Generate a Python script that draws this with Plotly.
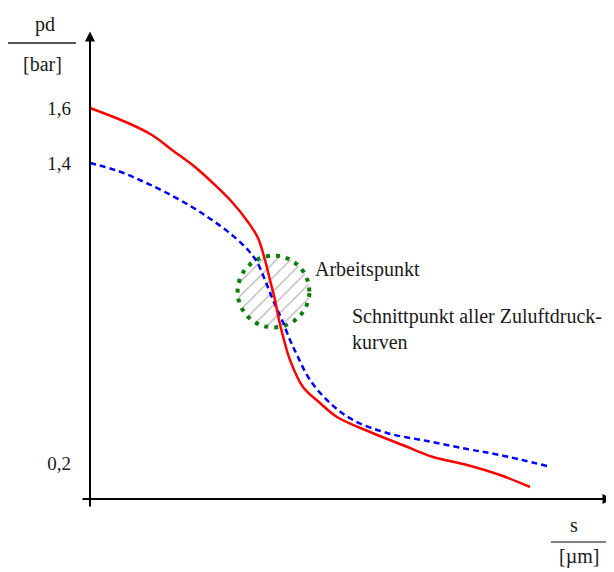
"""Schematic: supply pressure pd over travel s, with the common operating point."""

import numpy as np
import plotly.graph_objects as go

# curves in schematic units (s right, pd up), origin at the axis crossing
red_s = [0, 7.6, 12.4, 16.4, 21, 25, 28.4, 31.6, 33.6, 35, 36, 37, 37.8, 38.8,
         40, 42.6, 46, 49.4, 56, 63, 68.6, 75.4, 82, 88]
red_pd = [78.2, 75.2, 72.8, 69.8, 66.4, 62.8, 59.4, 55.4, 52.2, 47.8, 43.8, 39.8,
          35.8, 31.8, 27.8, 22.4, 19.2, 16.4, 13.4, 10.6, 8.4, 6.8, 4.8, 2.4]

blue_s = [0, 5.6, 10.4, 15, 20.4, 24.4, 28.4, 31.6, 33.4, 35, 36.6, 38.4, 40,
          41.4, 44, 48, 52.6, 59.4, 67.4, 75.4, 82, 91.4]
blue_pd = [67.2, 65.6, 63.6, 61.4, 58.4, 55.8, 52.8, 49.8, 47.4, 43.8, 39.8, 35.8,
           31.8, 28.8, 23.8, 19.2, 15.8, 13.2, 11.6, 10.0, 8.8, 6.6]

tick_pos = [78.2, 67.2, 7.2]
tick_text = ["1,6", "1,4", "0,2"]

# operating point (circle centre / radius)
op_s, op_pd, op_r = 36.7, 41.5, 7.2

FONT = "Liberation Serif"
OFF = 8  # default body margin of the html page
W, H = 614 - OFF, 572 - OFF
X0, X1 = -1.8, 104.6
Y0, Y1 = -1.8, 93.6
M_L, M_T = 81 - OFF, 31 - OFF
PX = 5.0  # pixels per unit on both axes
M_R = W - M_L - (X1 - X0) * PX
M_B = H - M_T - (Y1 - Y0) * PX


def paper(px, py):
    # page pixel position -> paper coordinates
    pw = (X1 - X0) * PX
    ph = (Y1 - Y0) * PX
    return (px - OFF - M_L) / pw, (M_T + ph - (py - OFF)) / ph


th = np.linspace(0, 2 * np.pi, 181)
circ_x = op_s + op_r * np.cos(th)
circ_y = op_pd + op_r * np.sin(th)

fig = go.Figure()
fig.add_trace(go.Scatter(
    x=circ_x, y=circ_y, mode="lines", fill="toself",
    fillcolor="rgba(0,0,0,0)",
    fillpattern=dict(shape="/", size=10, solidity=0.12, fgcolor="#b4b4b4",
                     bgcolor="rgba(0,0,0,0)", fillmode="replace"),
    line=dict(color="#0b7d0b", width=4, dash="4px,6px"),
    hoverinfo="skip",
))
fig.add_trace(go.Scatter(
    x=blue_s, y=blue_pd, mode="lines",
    line=dict(color="#0000ff", width=2.5, dash="6px,4px", shape="spline", smoothing=1.0),
))
fig.add_trace(go.Scatter(
    x=red_s, y=red_pd, mode="lines",
    line=dict(color="#ff0000", width=2.5, shape="spline", smoothing=1.0),
))

ann = [
    # axes with arrow heads
    dict(x=X1 - 0.1, y=0, ax=X0, ay=0, xref="x", yref="y", axref="x", ayref="y",
         showarrow=True, arrowhead=2, arrowsize=1, arrowwidth=2, arrowcolor="black", text=""),
    dict(x=0, y=Y1 - 0.1, ax=0, ay=Y0, xref="x", yref="y", axref="x", ayref="y",
         showarrow=True, arrowhead=2, arrowsize=1, arrowwidth=2, arrowcolor="black", text=""),
    dict(x=44.6, y=46, xref="x", yref="y", text="Arbeitspunkt", showarrow=False,
         xanchor="left", yanchor="middle"),
    dict(x=52, y=34.1, xref="x", yref="y", text="Schnittpunkt aller Zuluftdruck-<br>kurven",
         showarrow=False, xanchor="left", yanchor="middle", align="left"),
]
for txt, (px, py) in [("pd", (45, 24)), ("[bar]", (42, 64)),
                      ("s", (574, 525)), ("[µm]", (579, 556))]:
    fx, fy = paper(px, py)
    ann.append(dict(x=fx, y=fy, xref="paper", yref="paper", text=txt, showarrow=False,
                    xanchor="center", yanchor="middle"))

shapes = []
for (xa, xb, yy, col) in [(8, 76, 43, "#555555"), (551, 607, 542, "#808080")]:
    fa, fy = paper(xa, yy)
    fb, _ = paper(xb, yy)
    shapes.append(dict(type="line", xref="paper", yref="paper", x0=fa, x1=fb, y0=fy, y1=fy,
                       line=dict(color=col, width=2)))

fig.update_layout(
    width=W, height=H,
    margin=dict(l=M_L, r=M_R, t=M_T, b=M_B, pad=0, autoexpand=False),
    paper_bgcolor="white", plot_bgcolor="white",
    showlegend=False,
    font=dict(family=FONT, size=20, color="#1a1a1a"),
    xaxis=dict(range=[X0, X1], showgrid=False, zeroline=False, showline=False,
               showticklabels=False, ticks="", fixedrange=True, automargin=False),
    yaxis=dict(range=[Y0, Y1], showgrid=False, zeroline=False, showline=False,
               tickvals=tick_pos, ticktext=tick_text, ticks="", ticklabelstandoff=9,
               tickfont=dict(size=19), fixedrange=True, automargin=False),
    annotations=ann,
    shapes=shapes,
)

fig.write_html("out.html")
